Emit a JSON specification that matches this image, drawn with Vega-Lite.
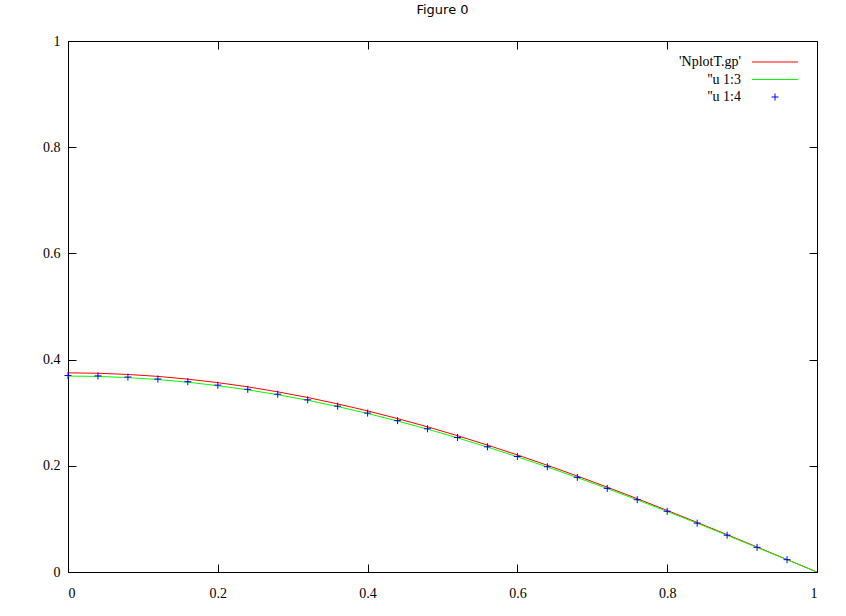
{
  "$schema": "https://vega.github.io/schema/vega-lite/v6.json",
  "autosize": "none",
  "width": 749,
  "height": 531,
  "padding": {"left": 68, "top": 41, "right": 29, "bottom": 44},
  "background": "white",
  "title": {"text": "Figure 0", "anchor": "middle", "frame": "group", "offset": 11, "baseline": "middle", "font": "DejaVu Sans", "fontSize": 13, "fontWeight": "normal", "color": "#000000"},
  "config": {
    "view": {"stroke": "black", "strokeWidth": 1},
    "axis": {"labelFont": "Liberation Serif", "labelFontSize": 14, "labelColor": "black", "domainColor": "black", "tickColor": "black", "grid": false, "title": null, "tickSize": -8, "domainWidth": 1, "tickWidth": 1},
    "legend": {"orient": "none", "legendX": 700, "legendY": 14, "padding": 0, "labelAlign": "right", "labelOffset": -41, "rowPadding": 3.5, "labelFont": "Liberation Serif", "labelFontSize": 14, "labelColor": "black", "symbolStrokeWidth": 1, "symbolSize": 100, "labelLimit": 300}
  },
  "datasets": {
    "lines": [
      {"x": 0.00, "y": 0.3750, "series": "'NplotT.gp'"},
      {"x": 0.04, "y": 0.3743, "series": "'NplotT.gp'"},
      {"x": 0.08, "y": 0.3720, "series": "'NplotT.gp'"},
      {"x": 0.12, "y": 0.3684, "series": "'NplotT.gp'"},
      {"x": 0.16, "y": 0.3632, "series": "'NplotT.gp'"},
      {"x": 0.20, "y": 0.3566, "series": "'NplotT.gp'"},
      {"x": 0.24, "y": 0.3487, "series": "'NplotT.gp'"},
      {"x": 0.28, "y": 0.3393, "series": "'NplotT.gp'"},
      {"x": 0.32, "y": 0.3286, "series": "'NplotT.gp'"},
      {"x": 0.36, "y": 0.3166, "series": "'NplotT.gp'"},
      {"x": 0.40, "y": 0.3034, "series": "'NplotT.gp'"},
      {"x": 0.44, "y": 0.2889, "series": "'NplotT.gp'"},
      {"x": 0.48, "y": 0.2734, "series": "'NplotT.gp'"},
      {"x": 0.52, "y": 0.2567, "series": "'NplotT.gp'"},
      {"x": 0.56, "y": 0.2390, "series": "'NplotT.gp'"},
      {"x": 0.60, "y": 0.2204, "series": "'NplotT.gp'"},
      {"x": 0.64, "y": 0.2009, "series": "'NplotT.gp'"},
      {"x": 0.68, "y": 0.1807, "series": "'NplotT.gp'"},
      {"x": 0.72, "y": 0.1597, "series": "'NplotT.gp'"},
      {"x": 0.76, "y": 0.1380, "series": "'NplotT.gp'"},
      {"x": 0.80, "y": 0.1159, "series": "'NplotT.gp'"},
      {"x": 0.84, "y": 0.0933, "series": "'NplotT.gp'"},
      {"x": 0.88, "y": 0.0703, "series": "'NplotT.gp'"},
      {"x": 0.92, "y": 0.0470, "series": "'NplotT.gp'"},
      {"x": 0.96, "y": 0.0235, "series": "'NplotT.gp'"},
      {"x": 1.00, "y": 0.0000, "series": "'NplotT.gp'"},
      {"x": 0.00, "y": 0.3690, "series": "''u 1:3"},
      {"x": 0.04, "y": 0.3683, "series": "''u 1:3"},
      {"x": 0.08, "y": 0.3661, "series": "''u 1:3"},
      {"x": 0.12, "y": 0.3625, "series": "''u 1:3"},
      {"x": 0.16, "y": 0.3574, "series": "''u 1:3"},
      {"x": 0.20, "y": 0.3509, "series": "''u 1:3"},
      {"x": 0.24, "y": 0.3431, "series": "''u 1:3"},
      {"x": 0.28, "y": 0.3339, "series": "''u 1:3"},
      {"x": 0.32, "y": 0.3234, "series": "''u 1:3"},
      {"x": 0.36, "y": 0.3116, "series": "''u 1:3"},
      {"x": 0.40, "y": 0.2985, "series": "''u 1:3"},
      {"x": 0.44, "y": 0.2843, "series": "''u 1:3"},
      {"x": 0.48, "y": 0.2690, "series": "''u 1:3"},
      {"x": 0.52, "y": 0.2526, "series": "''u 1:3"},
      {"x": 0.56, "y": 0.2352, "series": "''u 1:3"},
      {"x": 0.60, "y": 0.2169, "series": "''u 1:3"},
      {"x": 0.64, "y": 0.1977, "series": "''u 1:3"},
      {"x": 0.68, "y": 0.1778, "series": "''u 1:3"},
      {"x": 0.72, "y": 0.1571, "series": "''u 1:3"},
      {"x": 0.76, "y": 0.1358, "series": "''u 1:3"},
      {"x": 0.80, "y": 0.1140, "series": "''u 1:3"},
      {"x": 0.84, "y": 0.0918, "series": "''u 1:3"},
      {"x": 0.88, "y": 0.0691, "series": "''u 1:3"},
      {"x": 0.92, "y": 0.0462, "series": "''u 1:3"},
      {"x": 0.96, "y": 0.0232, "series": "''u 1:3"},
      {"x": 1.00, "y": 0.0000, "series": "''u 1:3"}
    ],
    "pts": [
      {"x": 0.00, "y": 0.3700, "series": "''u 1:4"},
      {"x": 0.04, "y": 0.3693, "series": "''u 1:4"},
      {"x": 0.08, "y": 0.3671, "series": "''u 1:4"},
      {"x": 0.12, "y": 0.3634, "series": "''u 1:4"},
      {"x": 0.16, "y": 0.3584, "series": "''u 1:4"},
      {"x": 0.20, "y": 0.3519, "series": "''u 1:4"},
      {"x": 0.24, "y": 0.3440, "series": "''u 1:4"},
      {"x": 0.28, "y": 0.3348, "series": "''u 1:4"},
      {"x": 0.32, "y": 0.3242, "series": "''u 1:4"},
      {"x": 0.36, "y": 0.3124, "series": "''u 1:4"},
      {"x": 0.40, "y": 0.2993, "series": "''u 1:4"},
      {"x": 0.44, "y": 0.2851, "series": "''u 1:4"},
      {"x": 0.48, "y": 0.2697, "series": "''u 1:4"},
      {"x": 0.52, "y": 0.2533, "series": "''u 1:4"},
      {"x": 0.56, "y": 0.2358, "series": "''u 1:4"},
      {"x": 0.60, "y": 0.2175, "series": "''u 1:4"},
      {"x": 0.64, "y": 0.1983, "series": "''u 1:4"},
      {"x": 0.68, "y": 0.1782, "series": "''u 1:4"},
      {"x": 0.72, "y": 0.1575, "series": "''u 1:4"},
      {"x": 0.76, "y": 0.1362, "series": "''u 1:4"},
      {"x": 0.80, "y": 0.1143, "series": "''u 1:4"},
      {"x": 0.84, "y": 0.0920, "series": "''u 1:4"},
      {"x": 0.88, "y": 0.0693, "series": "''u 1:4"},
      {"x": 0.92, "y": 0.0464, "series": "''u 1:4"},
      {"x": 0.96, "y": 0.0232, "series": "''u 1:4"}
    ]
  },
  "layer": [
    {
      "layer": [
        {
          "data": {"name": "lines"},
          "mark": {"type": "line", "strokeWidth": 1, "clip": true},
          "encoding": {
            "x": {"field": "x", "type": "quantitative", "scale": {"domain": [0, 1], "nice": false, "zero": false}, "axis": {"orient": "bottom", "values": [0, 0.2, 0.4, 0.6, 0.8, 1], "labelPadding": 22, "format": "~g"}},
            "y": {"field": "y", "type": "quantitative", "scale": {"domain": [0, 1], "nice": false, "zero": false}, "axis": {"orient": "left", "values": [0, 0.2, 0.4, 0.6, 0.8, 1], "labelPadding": 16, "format": "~g"}},
            "color": {"field": "series", "type": "nominal", "scale": {"domain": ["'NplotT.gp'", "''u 1:3", "''u 1:4"], "range": ["#ff0000", "#00ff00", "#0000ff"]}, "legend": {"title": null}}
          }
        },
        {
          "data": {"name": "pts"},
          "mark": {"type": "point", "filled": false, "strokeWidth": 1, "size": 100, "opacity": 1},
          "encoding": {
            "x": {"field": "x", "type": "quantitative"},
            "y": {"field": "y", "type": "quantitative"},
            "color": {"field": "series", "type": "nominal", "legend": {"title": null}},
            "shape": {"field": "series", "type": "nominal", "scale": {"domain": ["'NplotT.gp'", "''u 1:3", "''u 1:4"], "range": ["M-4.6,0H4.6", "M-4.6,0H4.6", "M-0.7,0H0.7M0,-0.7V0.7"]}, "legend": {"title": null}}
          }
        }
      ]
    },
    {
      "data": {"name": "pts"},
      "mark": {"type": "point", "opacity": 0},
      "encoding": {
        "x": {"field": "x", "type": "quantitative", "scale": {"domain": [0, 1], "nice": false, "zero": false}, "axis": {"orient": "top", "values": [0, 0.2, 0.4, 0.6, 0.8, 1], "labels": false, "domain": false}},
        "y": {"field": "y", "type": "quantitative", "scale": {"domain": [0, 1], "nice": false, "zero": false}, "axis": {"orient": "right", "values": [0, 0.2, 0.4, 0.6, 0.8, 1], "labels": false, "domain": false}}
      }
    }
  ],
  "resolve": {"scale": {"x": "independent", "y": "independent"}}
}
